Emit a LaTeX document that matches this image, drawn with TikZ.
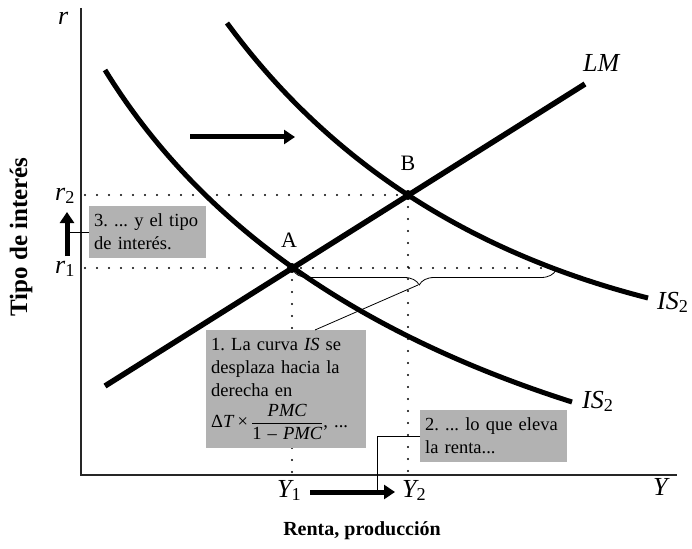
\documentclass[tikz,border=0pt]{standalone}
\usepackage{fontspec}
\setmainfont{Liberation Serif}
\usetikzlibrary{arrows.meta,decorations.pathreplacing,calc}
\definecolor{boxgray}{RGB}{178,178,178}
\begin{document}
\frenchspacing
\hbadness=10000 \hfuzz=20pt
\begin{tikzpicture}[x=1pt,y=-1pt,
  iscurve/.style={line width=5pt},
  axisline/.style={line width=1.2pt, black!85},
  dotline/.style={line width=2.4pt, dash pattern=on 0pt off 12pt, line cap=round},
  thinline/.style={line width=0.8pt},
  bigarrow/.style={line width=5pt, -{Triangle[length=11pt,width=14pt]}},
  notebox/.style={fill=boxgray, inner xsep=5pt, inner ysep=0pt, align=left, anchor=north west, font=\fontsize{18.5}{23}\selectfont\frenchspacing},
  mathlab/.style={font=\fontsize{26}{30}\selectfont\itshape, inner sep=0pt, anchor=base west},
  ptlab/.style={font=\fontsize{22}{26}\selectfont, inner sep=0pt, anchor=base},
  axtitle/.style={font=\fontsize{20}{24}\selectfont\bfseries, inner sep=0pt}
]
\useasboundingbox (0,0) rectangle (692,548);

% key coordinates
\coordinate (O) at (81,475);
\coordinate (Ytop) at (81,8);
\coordinate (Xend) at (677,475);
\coordinate (A) at (292,268);
\coordinate (B) at (408,195);
\coordinate (r2s) at (85,195);
\coordinate (r1s) at (85,268);
\coordinate (r1e) at (545,268);
\coordinate (Ab) at (292,475);
\coordinate (Bb) at (408,475);

% axes
\draw[axisline] (Ytop) -- (O) -- (Xend);

% dotted guides
\draw[dotline] (r2s) -- (B);
\draw[dotline] (r1s) -- (r1e);
\draw[dotline] (A) -- (Ab);
\draw[dotline] (B) -- (Bb);

% brace
\coordinate (brL) at (293,270);
\coordinate (brR) at (556,270);
\draw[thinline, decorate, decoration={brace, mirror, amplitude=15pt, aspect=0.48}] (brL) -- (brR);
\coordinate (bt) at (418,285);

% curves
\draw[iscurve] (105,70) .. controls (198.7,222) and (354.3,332.7) .. (572,402);
\draw[iscurve] (227,23) .. controls (328,160.7) and (468.3,252.3) .. (648,298);
\coordinate (LMs) at (105,386);
\coordinate (LMe) at (585,84);
\draw[line width=5.5pt] (LMs) -- (LMe);

% points
\fill (A) circle (5);
\fill (B) circle (5);
\node[ptlab] (la) at (289,247) {A};
\node[ptlab] (lb) at (408,170) {B};

% arrows
\coordinate (ta1) at (190,137);
\coordinate (ta2) at (295,137);
\draw[bigarrow] (ta1) -- (ta2);
\coordinate (ba1) at (310,492);
\coordinate (ba2) at (395,492);
\draw[bigarrow] (ba1) -- (ba2);
\coordinate (ua1) at (67,256);
\coordinate (ua2) at (67,212);
\draw[bigarrow] (ua1) -- (ua2);

% axis labels
\node[mathlab] (lr) at (58,25) {r};
\node[mathlab] (lr2) at (55,200) {r\textsubscript{\upshape 2}};
\node[mathlab] (lr1) at (55,273) {r\textsubscript{\upshape 1}};
\node[mathlab] (ly1) at (277,497) {Y\textsubscript{\upshape 1}};
\node[mathlab] (ly2) at (402,497) {Y\textsubscript{\upshape 2}};
\node[mathlab] (ly) at (653,495) {Y};
\node[mathlab] (llm) at (583,72) {LM};
\node[mathlab] (lis2) at (657,309) {IS\textsubscript{\upshape 2}};
\node[mathlab] (lis1) at (582,408) {IS\textsubscript{\upshape 2}};

\node[axtitle, rotate=90, font=\fontsize{25}{29}\selectfont\bfseries] (ytitle) at (21,237) {Tipo de interés};
\node[axtitle, anchor=base] (xtitle) at (362,535) {Renta, producción};

% boxes
\node[notebox, text width=150pt, minimum height=118pt] (b1) at (206,330)
  {1. La curva \textit{IS} se\\desplaza hacia la\\derecha en\\[6pt]
   Δ\textit{T}\,×\,$\displaystyle\frac{\textit{PMC}}{\textup{1 – }\textit{PMC}}$, ...};
\node[notebox, text width=137pt, minimum height=52pt] (b2) at (420,410)
  {\mbox{2. ... lo que eleva}\\la renta...};
\node[notebox, text width=107pt, minimum height=52pt] (b3) at (89,206)
  {\mbox{3. ... y el tipo}\\de interés.};

% connectors
\coordinate (b1t) at (315,330);
\draw[thinline] (bt) -- (b1t);
\coordinate (k2) at (377,492);
\draw[thinline] (b2.west) -| (k2);
\draw[thinline] (b3.west) -- (b3.west -| ua1);

\end{tikzpicture}
\end{document}
